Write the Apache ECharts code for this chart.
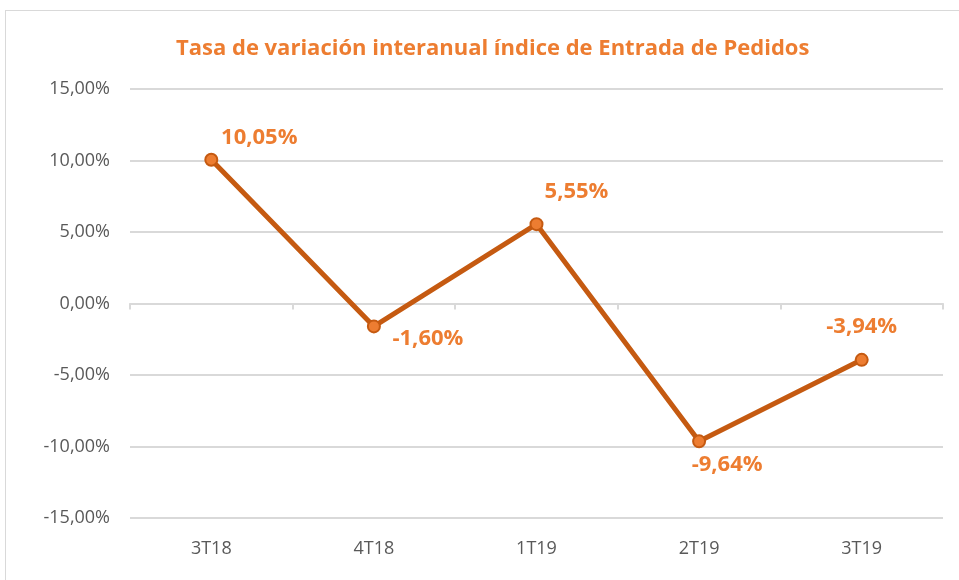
<!DOCTYPE html>
<html>
<head>
<meta charset="utf-8">
<style>
  html, body { margin: 0; padding: 0; background: #fff; }
  #frame { position: absolute; left: 5px; top: 10px; width: 970px; height: 590px; border: 1px solid #d9d9d9; box-sizing: border-box; }
  #chart { position: absolute; left: 0; top: 0; width: 959px; height: 580px; }
</style>
<script src="https://cdn.jsdelivr.net/npm/echarts@6/dist/echarts.min.js"></script>
</head>
<body>
<div id="frame"></div>
<div id="chart"></div>
<script>
const titleText = 'Tasa de variación interanual índice de Entrada de Pedidos'
const categories = ['3T18', '4T18', '1T19', '2T19', '3T19']
const values = [10.05, -1.60, 5.55, -9.64, -3.94]
// label offsets per point (dx, dy), roughly where Excel put them
const labelOffsets = [[48, -22], [54, 12], [40, -32], [28, 23], [0, -33]]

const fmt = v => v.toFixed(2).replace('.', ',') + '%'

const chart = echarts.init(document.getElementById('chart'))

const option = {
  animation: false,
  title: {
    text: titleText,
    left: 171,
    top: 33,
    textStyle: {
      color: '#ED7D31',
      fontFamily: 'Open Sans',
      fontWeight: 'bold',
      fontSize: 22
    }
  },
  grid: { left: 130, right: 16, top: 89, bottom: 62 },
  xAxis: [
    {
      type: 'category',
      data: categories,
      boundaryGap: true,
      axisLine: { onZero: true, lineStyle: { color: '#d9d9d9', width: 2 } },
      axisTick: { show: true, length: 6, lineStyle: { color: '#d9d9d9', width: 2 } },
      axisLabel: { show: false },
      splitLine: { show: false }
    },
    {
      type: 'category',
      data: categories,
      position: 'bottom',
      offset: 0,
      axisLine: { show: false },
      axisTick: { show: false },
      axisLabel: {
        color: '#595959',
        fontFamily: 'Liberation Sans Narrow, Open Sans',
        fontSize: 18,
        margin: 22
      }
    }
  ],
  yAxis: {
    type: 'value',
    min: -15,
    max: 15,
    interval: 5,
    axisLine: { show: false },
    axisTick: { show: false },
    splitLine: { lineStyle: { color: '#d9d9d9', width: 2 } },
    axisLabel: {
      color: '#595959',
      fontFamily: 'Liberation Sans Narrow, Open Sans',
      fontSize: 18,
      margin: 20,
      formatter: v => fmt(v)
    }
  },
  series: [{
    type: 'line',
    data: values.map((v, i) => ({
      value: v,
      label: { offset: labelOffsets[i] }
    })),
    symbol: 'circle',
    symbolSize: 12,
    lineStyle: { color: '#C55A11', width: 5 },
    itemStyle: { color: '#ED7D31', borderColor: '#C55A11', borderWidth: 2 },
    label: {
      show: true,
      position: 'inside',
      color: '#ED7D31',
      fontFamily: 'Open Sans',
      fontWeight: 'bold',
      fontSize: 22,
      formatter: p => fmt(p.value)
    }
  }]
}

chart.setOption(option)
</script>
</body>
</html>
